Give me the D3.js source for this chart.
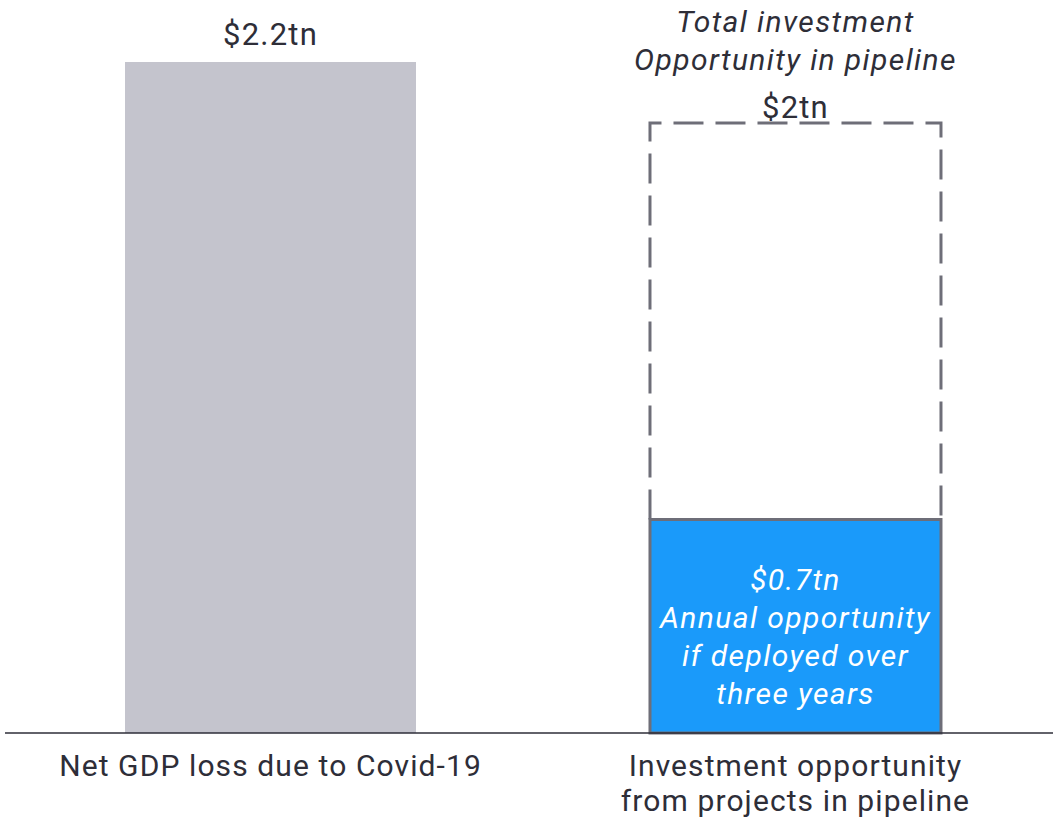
<!DOCTYPE html>
<html>
<head>
<meta charset="utf-8">
<script src="https://cdn.jsdelivr.net/npm/d3@7/dist/d3.min.js"></script>
<style>
html,body{margin:0;padding:0;background:#fff;}
svg{display:block;font-family:Roboto,"Open Sans",sans-serif;}
</style>
</head>
<body>
<svg id="chart" width="1053" height="819"></svg>
<script>
const categories = ["Net GDP loss due to Covid-19", "Investment opportunity from projects in pipeline"];
const categoryLines = [["Net GDP loss due to Covid-19"], ["Investment opportunity", "from projects in pipeline"]];
const totalValues = [2.2, 2.0];
const annualValues = [null, 0.7];
const valueLabels = ["$2.2tn", "$2tn"];
const annualLabels = ["$0.7tn", "Annual opportunity", "if deployed over", "three years"];
const totalNote = ["Total investment", "Opportunity in pipeline"];

const svg = d3.select("#chart");
const baseY = 733;
const x = d3.scaleBand().domain(categories).range([8, 1058]).paddingInner(0.4457).paddingOuter(0.2229);
const y = d3.scaleLinear().domain([0, 733 / 305]).range([baseY, 0]);
const textColor = "#2e2e38";

// Grey bar (first category)
svg.append("rect")
  .attr("x", x(categories[0])).attr("width", x.bandwidth())
  .attr("y", y(totalValues[0])).attr("height", baseY - y(totalValues[0]))
  .attr("fill", "#c4c4cd");

// Blue annual bar
const bx = x(categories[1]);
svg.append("rect")
  .attr("x", bx).attr("width", x.bandwidth())
  .attr("y", y(annualValues[1])).attr("height", baseY - y(annualValues[1]))
  .attr("fill", "#1a9afa").attr("stroke", "#6e6e78").attr("stroke-width", 3);

// Dashed total outline (open bottom)
const top2 = y(totalValues[1]), bot2 = y(annualValues[1]);
svg.append("path")
  .attr("d", `M${bx},${bot2} L${bx},${top2} L${bx + x.bandwidth()},${top2} L${bx + x.bandwidth()},${bot2}`)
  .attr("fill", "none").attr("stroke", "#6e6e78").attr("stroke-width", 3)
  .attr("stroke-dasharray", "30,12");

// Baseline
svg.append("line").attr("x1", 5).attr("x2", 1053).attr("y1", baseY).attr("y2", baseY)
  .attr("stroke", "#2e2e38").attr("stroke-width", 1.5);

// Value labels
svg.append("text").attr("x", x(categories[0]) + x.bandwidth() / 2).attr("y", 45)
  .attr("text-anchor", "middle").attr("font-size", 31).attr("letter-spacing", 1.2)
  .attr("fill", textColor).text(valueLabels[0]);
const c2 = bx + x.bandwidth() / 2;
svg.append("text").attr("x", c2).attr("y", 118)
  .attr("text-anchor", "middle").attr("font-size", 31).attr("letter-spacing", 1.2)
  .attr("fill", textColor).text(valueLabels[1]);
totalNote.forEach((t, i) => {
  svg.append("text").attr("x", c2).attr("y", 32 + i * 38)
    .attr("text-anchor", "middle").attr("font-size", 30).attr("font-style", "italic")
    .attr("letter-spacing", 1.4).attr("fill", textColor).text(t);
});

// Annual labels inside the blue bar
annualLabels.forEach((t, i) => {
  svg.append("text").attr("x", c2).attr("y", 590 + i * 38)
    .attr("text-anchor", "middle").attr("font-size", 30).attr("font-style", "italic")
    .attr("letter-spacing", 1.4).attr("fill", "#fff").text(t);
});

// Category labels
categories.forEach((c, ci) => {
  categoryLines[ci].forEach((t, i) => {
    svg.append("text").attr("x", x(c) + x.bandwidth() / 2).attr("y", 776 + i * 35)
      .attr("text-anchor", "middle").attr("font-size", 30).attr("letter-spacing", 1.1)
      .attr("fill", textColor).text(t);
  });
});
</script>
</body>
</html>
